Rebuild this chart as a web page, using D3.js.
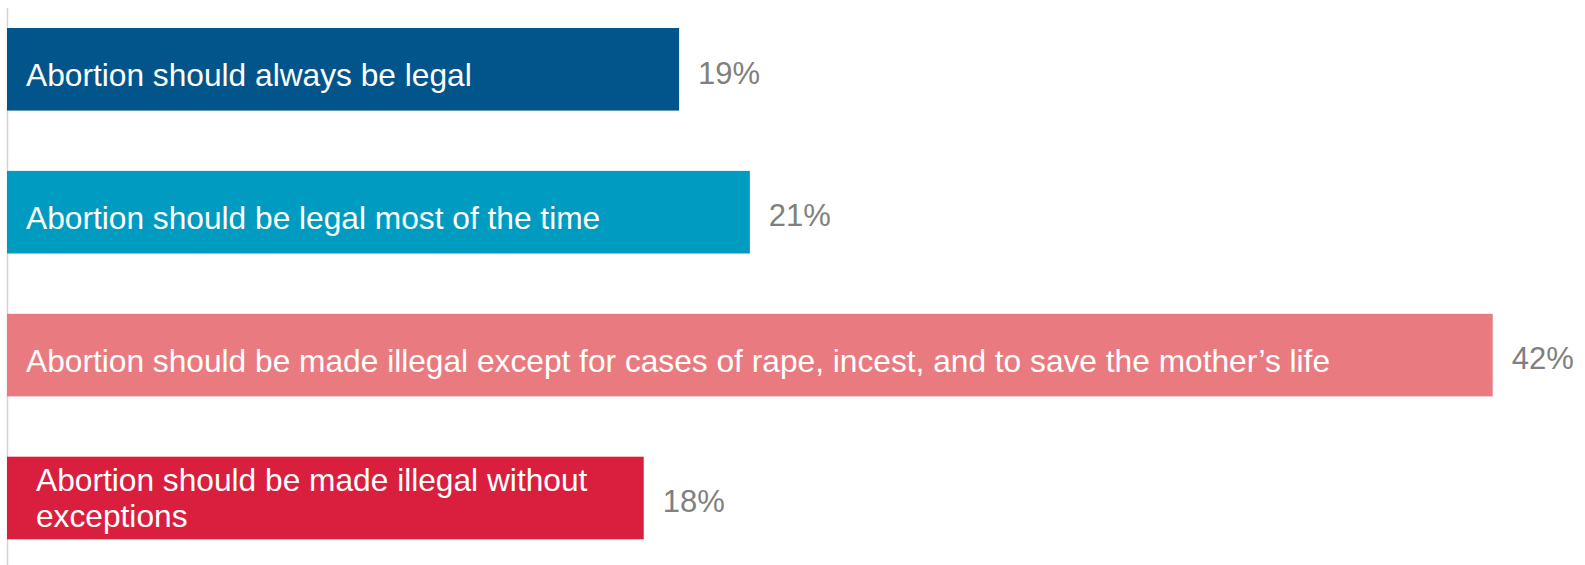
<!DOCTYPE html>
<html>
<head>
<meta charset="utf-8">
<script src="https://cdn.jsdelivr.net/npm/d3@7"></script>
<style>
  html, body { margin: 0; padding: 0; background: #ffffff; }
  svg { display: block; }
  text { font-family: "Liberation Sans", Arial, Helvetica, sans-serif; }
</style>
</head>
<body>
<svg id="chart" width="1585" height="565"></svg>
<script>
// Survey responses on the legality of abortion
const categories = [
  "always",
  "most",
  "except",
  "never"
];
const labelLines = [
  ["Abortion should always be legal"],
  ["Abortion should be legal most of the time"],
  ["Abortion should be made illegal except for cases of rape, incest, and to save the mother\u2019s life"],
  ["Abortion should be made illegal without", "exceptions"]
];
const values = [19, 21, 42, 18];
const valueLabels = ["19%", "21%", "42%", "18%"];
const colors = ["#02558b", "#009bc0", "#e97b80", "#da1e3e"];

const svg = d3.select("#chart");
const x0 = 7;

const x = d3.scaleLinear().domain([0, 42]).range([x0, 1492.7]);
const y = d3.scaleBand().domain(categories).range([28, 539.3])
  .paddingInner(0.422).paddingOuter(0);

// baseline axis
svg.append("line")
  .attr("x1", x0 + 0.5).attr("x2", x0 + 0.5)
  .attr("y1", 8).attr("y2", 565)
  .attr("stroke", "#d4d4d4").attr("stroke-width", 1.5);

const rows = svg.selectAll("g.row")
  .data(categories.map((c, i) => ({ c, i, v: values[i] })))
  .join("g").attr("class", "row");

rows.append("rect")
  .attr("x", x(0))
  .attr("y", d => y(d.c))
  .attr("width", d => x(d.v) - x(0))
  .attr("height", y.bandwidth())
  .attr("fill", d => colors[d.i]);

// category text inside each bar
rows.each(function(d) {
  const lines = labelLines[d.i];
  const top = y(d.c);
  const multi = lines.length > 1;
  const tx = multi ? 36 : 26;
  const t = d3.select(this).append("text")
    .attr("fill", "#ffffff")
    .attr("font-size", 31.7)
    .attr("x", tx)
    .attr("y", multi ? top + 34.3 : top + 58);
  lines.forEach((ln, k) => {
    t.append("tspan")
      .attr("x", tx)
      .attr("dy", k === 0 ? 0 : 36)
      .text(ln);
  });
});

// value labels right of each bar
rows.append("text")
  .attr("x", d => x(d.v) + 19)
  .attr("y", d => y(d.c) + 55.5)
  .attr("fill", "#808080")
  .attr("font-size", 31)
  .text(d => valueLabels[d.i]);
</script>
</body>
</html>
